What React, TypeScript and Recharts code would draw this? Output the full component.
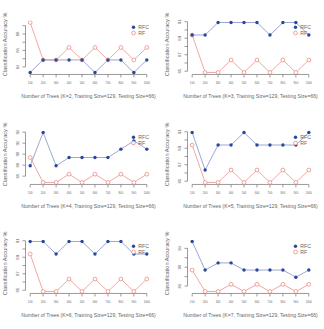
import React from 'react';
import { LineChart, Line, XAxis, YAxis, ReferenceLine } from 'recharts';

const TREES = [100, 200, 300, 400, 500, 600, 700, 800, 900, 1000];
const K_VALUES = [2, 3, 4, 5, 6, 7];

const RFC_K2 = [83.33, 84.85, 84.85, 84.85, 84.85, 83.33, 84.85, 84.85, 83.33, 84.85];
const RF_K2 = [89.39, 84.85, 84.85, 86.36, 84.85, 86.36, 84.85, 86.36, 84.85, 86.36];
const RFC_K3 = [89.39, 89.39, 90.91, 90.91, 90.91, 90.91, 89.39, 90.91, 90.91, 89.39];
const RF_K3 = [89.39, 84.85, 84.85, 86.36, 84.85, 86.36, 84.85, 86.36, 84.85, 86.36];
const RFC_K4 = [87.88, 93.94, 87.88, 89.39, 89.39, 89.39, 89.39, 90.91, 92.42, 90.91];
const RF_K4 = [89.39, 84.85, 84.85, 86.36, 84.85, 86.36, 84.85, 86.36, 84.85, 86.36];
const RFC_K5 = [90.91, 86.36, 89.39, 89.39, 90.91, 89.39, 89.39, 89.39, 89.39, 90.91];
const RF_K5 = [89.39, 84.85, 84.85, 86.36, 84.85, 86.36, 84.85, 86.36, 84.85, 86.36];
const RFC_K6 = [90.91, 90.91, 89.39, 90.91, 90.91, 89.39, 90.91, 90.91, 89.39, 89.39];
const RF_K6 = [89.39, 84.85, 84.85, 86.36, 84.85, 86.36, 84.85, 86.36, 84.85, 86.36];
const RFC_K7 = [95.45, 89.39, 90.91, 90.91, 89.39, 89.39, 89.39, 89.39, 87.88, 89.39];
const RF_K7 = [89.39, 84.85, 84.85, 86.36, 84.85, 86.36, 84.85, 86.36, 84.85, 86.36];

const Y_TICKS_K2 = [84, 85, 86, 87, 88, 89];
const Y_LABELS_K2 = [84, 86, 88];
const Y_TICKS_K3 = [85, 86, 87, 88, 89, 90, 91];
const Y_LABELS_K3 = [85, 87, 89, 91];
const Y_TICKS_K4 = [86, 88, 90, 92, 94];
const Y_LABELS_K4 = [86, 88, 90, 92, 94];
const Y_TICKS_K7 = [86, 88, 90, 92, 94];
const Y_LABELS_K7 = [86, 90, 94];

const SERIES_NAMES = ['RFC', 'RF'];
const Y_TITLE = 'Classification Accuracy %';
const xTitle = (k: number) => `Number of Trees (K=${k}, Training Size=129, Testing Size=66)`;

const PANELS = [
  { k: K_VALUES[0], rfc: RFC_K2, rf: RF_K2, ticks: Y_TICKS_K2, labels: Y_LABELS_K2 },
  { k: K_VALUES[1], rfc: RFC_K3, rf: RF_K3, ticks: Y_TICKS_K3, labels: Y_LABELS_K3 },
  { k: K_VALUES[2], rfc: RFC_K4, rf: RF_K4, ticks: Y_TICKS_K4, labels: Y_LABELS_K4 },
  { k: K_VALUES[3], rfc: RFC_K5, rf: RF_K5, ticks: Y_TICKS_K3, labels: Y_LABELS_K3 },
  { k: K_VALUES[4], rfc: RFC_K6, rf: RF_K6, ticks: Y_TICKS_K3, labels: Y_LABELS_K3 },
  { k: K_VALUES[5], rfc: RFC_K7, rf: RF_K7, ticks: Y_TICKS_K7, labels: Y_LABELS_K7 },
];

const RFC_DOT = '#27489b';
const RFC_LINE = '#8092c8';
const RF_COL = '#ec7c73';
const RF_LINE = '#ef918a';
const AXIS = '#707070';
const TEXT = '#666';
const FONT = '"Liberation Sans", Arial, Helvetica, sans-serif';

const W = 162;
const H = 109.67;
// plot region: left 25.5, right 151.5, top 20.5, bottom ~74.5
const M = { top: 20.5, right: 10.5, bottom: 34.2, left: 24.5 };

const XTick = (props: any) => {
  const { x, y, payload } = props;
  return (
    <text x={x} y={y + 5.5} textAnchor="middle" dominantBaseline="central" fontSize={2.8} fill={TEXT} fontFamily={FONT}>
      {payload.value}
    </text>
  );
};

const makeYTick = (labels: number[]) => (props: any) => {
  const { x, y, payload } = props;
  if (!labels.includes(payload.value)) return <g />;
  const cx = x - 5;
  return (
    <text x={cx} y={y} textAnchor="middle" dominantBaseline="central" fontSize={4.3} fill={TEXT} fontFamily={FONT}
      transform={`rotate(-90 ${cx} ${y})`}>
      {payload.value}
    </text>
  );
};

function Panel({ p, left, top }: { p: typeof PANELS[number]; left: number; top: number }) {
  const data = TREES.map((t, i) => ({ trees: t, rfc: p.rfc[i], rf: p.rf[i] }));
  const all = [...p.rfc, ...p.rf];
  const lo = Math.min(...all);
  const hi = Math.max(...all);
  const pad = (hi - lo) * 0.04;
  const yDomain = [lo - pad, hi + pad];
  const xPad = (TREES[TREES.length - 1] - TREES[0]) * 0.04;
  const xDomain = [TREES[0] - xPad, TREES[TREES.length - 1] + xPad];
  return (
    <div style={{ position: 'absolute', left, top, width: W, height: H }}>
      <LineChart width={W} height={H} data={data} margin={M}>
        <XAxis type="number" dataKey="trees" domain={xDomain} ticks={TREES} interval={0} height={1}
          axisLine={false} tickLine={{ stroke: AXIS, strokeWidth: 0.7 }} tickSize={3} tickMargin={0} tick={<XTick />} />
        <YAxis type="number" domain={yDomain} ticks={p.ticks} interval={0} width={1}
          axisLine={false} tickLine={{ stroke: AXIS, strokeWidth: 0.7 }} tickSize={3} tickMargin={0}
          tick={makeYTick(p.labels)} allowDataOverflow />
        <ReferenceLine segment={[{ x: TREES[0], y: yDomain[0] }, { x: TREES[TREES.length - 1], y: yDomain[0] }]}
          stroke={AXIS} strokeWidth={0.7} ifOverflow="visible" />
        <ReferenceLine segment={[{ x: xDomain[0], y: p.ticks[0] }, { x: xDomain[0], y: p.ticks[p.ticks.length - 1] }]}
          stroke={AXIS} strokeWidth={0.7} ifOverflow="visible" />
        <Line type="linear" dataKey="rf" stroke={RF_LINE} strokeWidth={0.8} isAnimationActive={false}
          dot={{ r: 1.9, fill: '#fff', stroke: RF_COL, strokeWidth: 0.7 }} activeDot={false} />
        <Line type="linear" dataKey="rfc" stroke={RFC_LINE} strokeWidth={0.8} isAnimationActive={false}
          dot={{ r: 1.7, fill: RFC_DOT, stroke: 'none' }} activeDot={false} />
      </LineChart>
      <svg width={W} height={H} style={{ position: 'absolute', left: 0, top: 0, pointerEvents: 'none' }}>
        <text x={88.5} y={95.7} textAnchor="middle" dominantBaseline="central"
          fontSize={5.1} fill={TEXT} fontFamily={FONT}>{xTitle(p.k)}</text>
        <text x={4.5} y={44.5} textAnchor="middle" dominantBaseline="central" fontSize={5.6} fill={TEXT}
          fontFamily={FONT} transform={`rotate(-90 4.5 44.5)`}>{Y_TITLE}</text>
        <circle cx={133.5} cy={27.2} r={1.7} fill={RFC_DOT} />
        <text x={138.3} y={27.2} dominantBaseline="central" fontSize={5.2} fill={TEXT} fontFamily={FONT}>{SERIES_NAMES[0]}</text>
        <circle cx={133.5} cy={33} r={1.9} fill="#fff" stroke={RF_COL} strokeWidth={0.7} />
        <text x={138.3} y={33} dominantBaseline="central" fontSize={5.2} fill={TEXT} fontFamily={FONT}>{SERIES_NAMES[1]}</text>
      </svg>
    </div>
  );
}

export default function App() {
  return (
    <div style={{ position: 'absolute', left: 0, top: 0, width: 324, height: 329, background: '#fff', overflow: 'hidden' }}>
      {PANELS.map((p, i) => (
        <Panel key={p.k} p={p} left={(i % 2) * W} top={Math.floor(i / 2) * H} />
      ))}
    </div>
  );
}
